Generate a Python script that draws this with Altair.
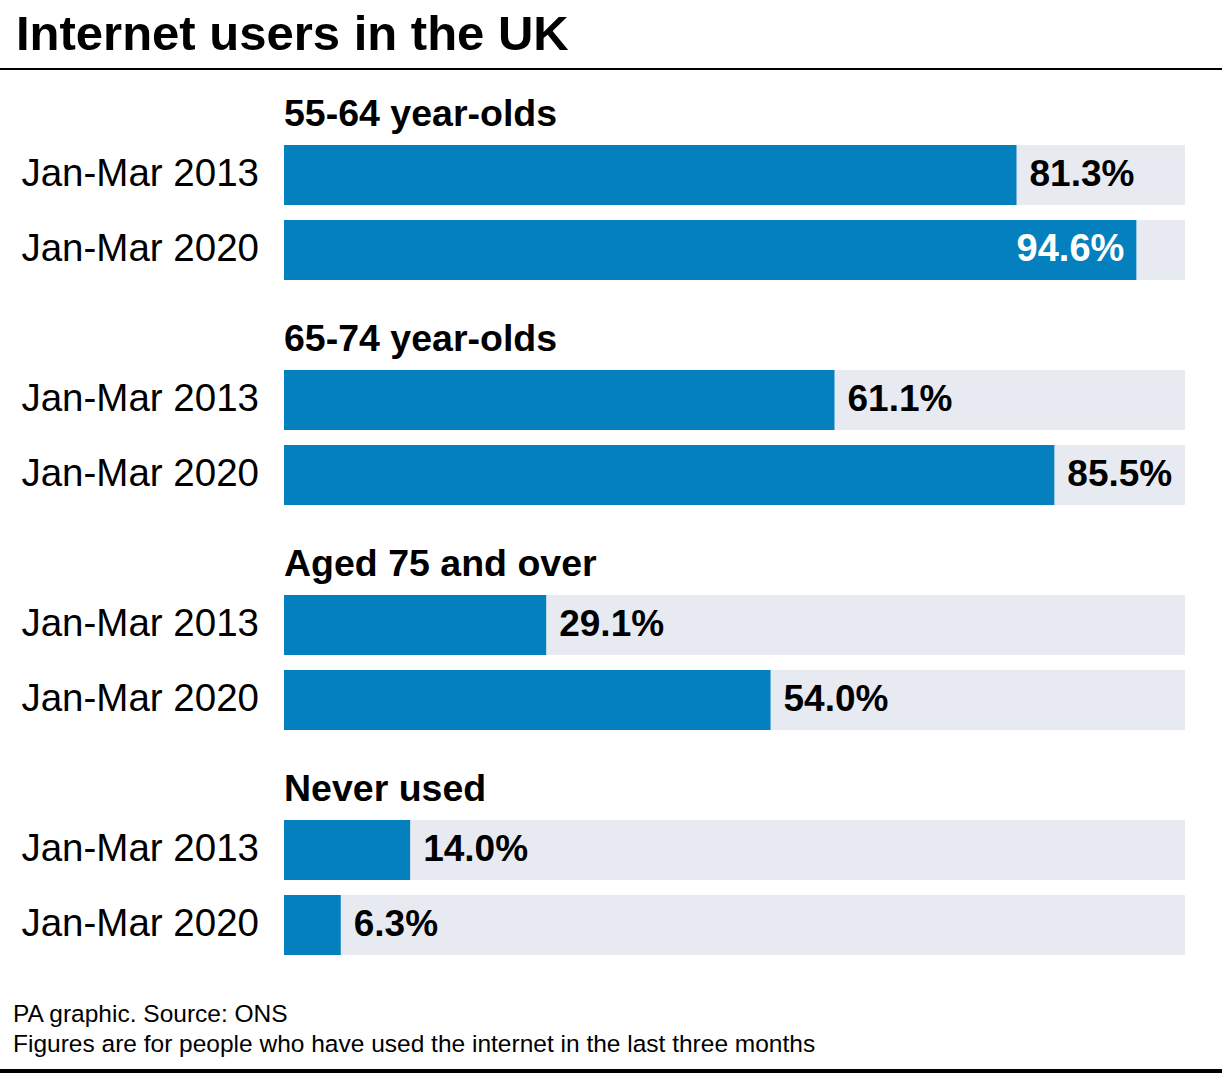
import altair as alt
import pandas as pd

TITLE = "Internet users in the UK"
FOOTER = ["PA graphic. Source: ONS",
          "Figures are for people who have used the internet in the last three months"]
groups = ["55-64 year-olds", "65-74 year-olds", "Aged 75 and over", "Never used"]
periods = ["Jan-Mar 2013", "Jan-Mar 2020"]
values_2013 = [81.3, 61.1, 29.1, 14.0]
values_2020 = [94.6, 85.5, 54.0, 6.3]

BLUE = "#0580BE"
TRACK = "#E8EAF2"
FONT = "Liberation Sans"

rows = []
header_rows = []
bar_rows = []
for gi, g in enumerate(groups):
    hk = f"g{gi}-h"
    rows.append(hk)
    header_rows.append({"row": hk, "label": g})
    for p, v in zip(periods, [values_2013[gi], values_2020[gi]]):
        k = f"g{gi}-{p}"
        rows.append(k)
        bar_rows.append({"row": k, "period": p, "value": v,
                         "full": 100, "text": f"{v:.1f}%"})

bars_df = pd.DataFrame(bar_rows)
head_df = pd.DataFrame(header_rows)

xs = alt.Scale(domain=[0, 100], range=[284, 1185], nice=False, zero=True)
ys = alt.Scale(domain=rows, range=[62.5, 962.5], paddingInner=0.2, paddingOuter=0.1)

base = alt.Chart(bars_df)
track = base.mark_bar(color=TRACK).encode(
    x=alt.X("full:Q", scale=xs, axis=None),
    y=alt.Y("row:N", scale=ys, axis=None),
)
bar = base.mark_bar(color=BLUE).encode(
    x=alt.X("value:Q", scale=xs, axis=None),
    y=alt.Y("row:N", scale=ys, axis=None),
)
val_out = base.transform_filter("datum.value <= 90").mark_text(
    align="left", baseline="middle", dx=13, dy=0, font=FONT, fontSize=37,
    fontWeight="bold", color="#000000").encode(
    x=alt.X("value:Q", scale=xs, axis=None),
    y=alt.Y("row:N", scale=ys, axis=None),
    text="text:N",
)
val_in = base.transform_filter("datum.value > 90").mark_text(
    align="right", baseline="middle", dx=-12, dy=0, font=FONT, fontSize=38,
    fontWeight="bold", color="#FFFFFF").encode(
    x=alt.X("value:Q", scale=xs, axis=None),
    y=alt.Y("row:N", scale=ys, axis=None),
    text="text:N",
)
period_lbl = base.mark_text(
    align="right", baseline="middle", dy=-1, font=FONT, fontSize=38.5,
    color="#000000").encode(
    x=alt.value(259),
    y=alt.Y("row:N", scale=ys, axis=None),
    text="period:N",
)
head_lbl = alt.Chart(head_df).mark_text(
    align="left", baseline="middle", dy=15, font=FONT, fontSize=37.5,
    fontWeight="bold", color="#000000").encode(
    x=alt.value(284),
    y=alt.Y("row:N", scale=ys, axis=None),
    text="label:N",
)

one = pd.DataFrame({"a": [0]})
title = alt.Chart(one).mark_text(
    align="left", baseline="middle", font=FONT, fontSize=49, fontWeight="bold",
    color="#000000").encode(x=alt.value(16), y=alt.value(35), text=alt.value(TITLE))
foot1 = alt.Chart(one).mark_text(
    align="left", baseline="middle", font=FONT, fontSize=24.5,
    color="#000000").encode(x=alt.value(13), y=alt.value(1015), text=alt.value(FOOTER[0]))
foot2 = alt.Chart(one).mark_text(
    align="left", baseline="middle", font=FONT, fontSize=24.5,
    color="#000000").encode(x=alt.value(13), y=alt.value(1045), text=alt.value(FOOTER[1]))
top_rule = alt.Chart(one).mark_rule(color="#000000", strokeWidth=2).encode(
    x=alt.value(0), x2=alt.value(1222), y=alt.value(69))
bot_rule = alt.Chart(one).mark_rule(color="#000000", strokeWidth=4).encode(
    x=alt.value(0), x2=alt.value(1222), y=alt.value(1071))

chart = alt.layer(
    track, bar, val_out, val_in, period_lbl, head_lbl,
    title, foot1, foot2, top_rule, bot_rule
).properties(
    width=1222, height=1080, padding=0,
    autosize=alt.AutoSizeParams(type="none"),
    background="#FFFFFF",
).configure_view(stroke=None)

chart.save("out.html", embed_options={"renderer": "svg", "actions": False})
